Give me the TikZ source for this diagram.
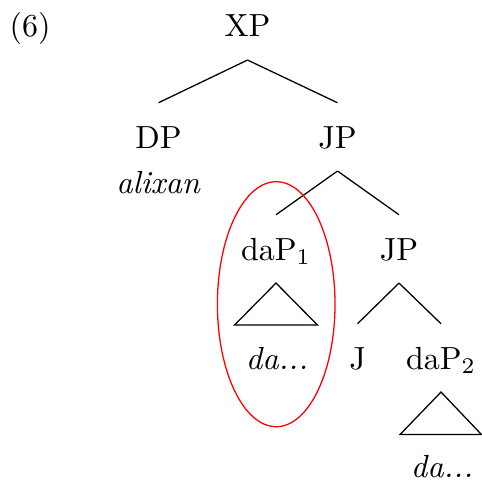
\documentclass[tikz,border=0pt]{standalone}
\usepackage{amsmath}
\usepackage{xcolor}
\usepackage{tikz}
\usetikzlibrary{positioning,calc}

\tikzset{
  lbl/.style={anchor=base, inner sep=0pt, outer sep=7.2pt, text height=6.94pt, text depth=0pt},
  gloss/.style={anchor=base, inner sep=0pt}
}

\begin{document}
\begin{tikzpicture}[x=0.3125pt, y=-0.3125pt]
\useasboundingbox (0,0) rectangle (482,480);
\node[gloss] (ex) at (30,37) {(6)};
% tree labels
\node[lbl] (xp) at (247.5,37) {XP};
\node[lbl] (dp) at (158.5,148) {DP};
\node[gloss] (alixan) at (158.5,193) {\textit{alixan}};
\node[lbl] (jp) at (337.5,148) {JP};
\node[lbl] (dap1) at (276,260) {daP$_1$};
\node[lbl] (jpb) at (399,260) {JP};
\node[lbl] (da1) at (277,369) {\textit{da...}};
\node[lbl] (j) at (357.5,369) {J};
\node[lbl] (dap2) at (441,369) {daP$_2$};
\node[lbl] (da2) at (442,477) {\textit{da...}};
% branches
\draw (xp.south) -- (dp.north);
\draw (xp.south) -- (jp.north);
\draw (jp.south) -- (dap1.north);
\draw (jp.south) -- (jpb.north);
\draw (jpb.south) -- (j.north);
\draw (jpb.south) -- (dap2.north);
% triangles
\draw (dap1.south) -- ($(dap1.south)+(-41.5,42)$) -- ($(dap1.south)+(41.5,42)$) -- cycle;
\draw (dap2.south) -- ($(dap2.south)+(-41,42.5)$) -- ($(dap2.south)+(40.5,42.5)$) -- cycle;
% circled constituent
\draw[red] (276.2,304.2) ellipse [x radius=58.8, y radius=122.5];
\end{tikzpicture}
\end{document}
